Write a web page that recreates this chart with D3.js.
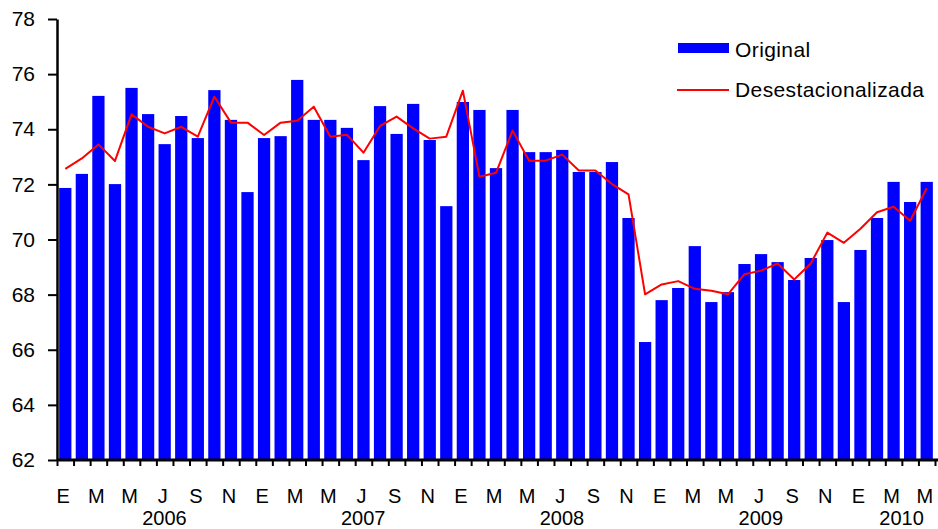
<!DOCTYPE html>
<html>
<head>
<meta charset="utf-8">
<script src="https://cdn.jsdelivr.net/npm/d3@7"></script>
<style>
  body { margin: 0; background: #fff; }
  text { font-family: Arial, "Liberation Sans", sans-serif; fill: #000; }
</style>
</head>
<body>
<script>
// monthly data, Jan 2006 - May 2010
var years = ['2006', '2007', '2008', '2009', '2010'];
var monthLetters = ['E', 'F', 'M', 'A', 'M', 'J', 'J', 'A', 'S', 'O', 'N', 'D'];

var original = [
  71.87, 72.38, 75.21, 72.01, 75.50, 74.55, 73.46, 74.48, 73.68, 75.42, 74.34, 71.72,
  73.68, 73.75, 75.79, 74.34, 74.34, 74.05, 72.88, 74.84, 73.83, 74.92, 73.61, 71.21,
  74.99, 74.70, 72.59, 74.70, 73.17, 73.17, 73.25, 72.45, 72.45, 72.81, 70.78, 66.28,
  67.80, 68.24, 69.76, 67.73, 68.09, 69.11, 69.47, 69.18, 68.53, 69.33, 69.98, 67.73,
  69.62, 70.78, 72.09, 71.36, 72.09
];

var desest = [
  72.56, 72.94, 73.45, 72.85, 74.54, 74.09, 73.85, 74.09, 73.73, 75.18, 74.24, 74.24,
  73.79, 74.24, 74.31, 74.82, 73.73, 73.80, 73.15, 74.12, 74.46, 74.03, 73.66, 73.73,
  75.40, 72.28, 72.42, 73.95, 72.86, 72.86, 73.08, 72.50, 72.50, 72.01, 71.64, 68.01,
  68.37, 68.49, 68.21, 68.14, 68.01, 68.74, 68.87, 69.13, 68.55, 69.13, 70.25, 69.88,
  70.39, 70.99, 71.19, 70.68, 71.86
];

var yTicks = [62, 64, 66, 68, 70, 72, 74, 76, 78];

var width = 938, height = 529;
var plotLeft = 57, plotRight = 935, plotTop = 19, plotBottom = 460;
var n = original.length;

var svg = d3.select('body').append('svg')
    .attr('width', width)
    .attr('height', height);

var x = d3.scaleBand()
    .domain(d3.range(n))
    .range([plotLeft, plotRight])
    .paddingInner(0.26)
    .paddingOuter(0.13);

// linear scale for the tick marks between the bars
var xEdge = d3.scaleLinear().domain([0, n]).range([plotLeft, plotRight]);

var y = d3.scaleLinear().domain([62, 78]).range([plotBottom, plotTop]);

// bars
svg.selectAll('.bar')
    .data(original)
    .enter()
    .append('rect')
      .attr('class', 'bar')
      .attr('x', function (d, i) { return x(i); })
      .attr('width', x.bandwidth())
      .attr('y', function (d) { return y(d); })
      .attr('height', function (d) { return y(62) - y(d); })
      .attr('fill', '#0000ff');

// seasonally adjusted line
var line = d3.line()
    .x(function (d, i) { return x(i) + x.bandwidth() / 2; })
    .y(function (d) { return y(d); });

svg.append('path')
    .datum(desest)
    .attr('fill', 'none')
    .attr('stroke', '#ff0000')
    .attr('stroke-width', 2)
    .attr('stroke-linejoin', 'round')
    .attr('d', line);

// y axis
var yAxis = svg.append('g')
    .attr('transform', 'translate(' + plotLeft + ',0)')
    .call(d3.axisLeft(y).tickValues(yTicks).tickSize(9).tickPadding(13).tickSizeOuter(0));
yAxis.select('.domain').attr('stroke-width', 2.5);
yAxis.selectAll('.tick line').attr('stroke-width', 2);
yAxis.selectAll('.tick text')
    .style('font-size', '21px')
    .style('font-family', 'Arial, "Liberation Sans", sans-serif');

// x axis
var xAxis = svg.append('g')
    .attr('transform', 'translate(0,' + plotBottom + ')')
    .call(d3.axisBottom(xEdge).tickValues(d3.range(n + 1)).tickSize(6).tickFormat('').tickSizeOuter(0));
xAxis.select('.domain').attr('stroke-width', 3).attr('d', 'M' + plotLeft + ',0H' + width);
xAxis.selectAll('.tick line').attr('stroke-width', 2);

// month labels, every other month
svg.selectAll('.month')
    .data(d3.range(n).filter(function (i) { return i % 2 === 0; }))
    .enter()
    .append('text')
      .attr('class', 'month')
      .attr('x', function (i) { return x(i) + x.bandwidth() / 2 - 2; })
      .attr('y', 503)
      .attr('text-anchor', 'middle')
      .style('font-size', '20px')
      .text(function (i) { return monthLetters[i % 12]; });

// year labels
svg.selectAll('.year')
    .data(years)
    .enter()
    .append('text')
      .attr('class', 'year')
      .attr('x', function (d, k) {
        var first = k * 12;
        var last = Math.min(first + 11, n - 1);
        var mid = (first + last) / 2;
        return xEdge(mid + 0.5) + 8;
      })
      .attr('y', 525)
      .attr('text-anchor', 'middle')
      .style('font-size', '20px')
      .text(function (d) { return d; });

// legend
var legend = svg.append('g');
legend.append('rect')
    .attr('x', 678).attr('y', 43)
    .attr('width', 51).attr('height', 10)
    .attr('fill', '#0000ff');
legend.append('text')
    .attr('x', 735).attr('y', 57)
    .style('font-size', '21px')
    .style('letter-spacing', '0.4px')
    .text('Original');
legend.append('line')
    .attr('x1', 677).attr('x2', 729)
    .attr('y1', 90).attr('y2', 90)
    .attr('stroke', '#ff0000')
    .attr('stroke-width', 2);
legend.append('text')
    .attr('x', 735).attr('y', 97)
    .style('font-size', '21px')
    .style('letter-spacing', '0.4px')
    .text('Desestacionalizada');
</script>
</body>
</html>
